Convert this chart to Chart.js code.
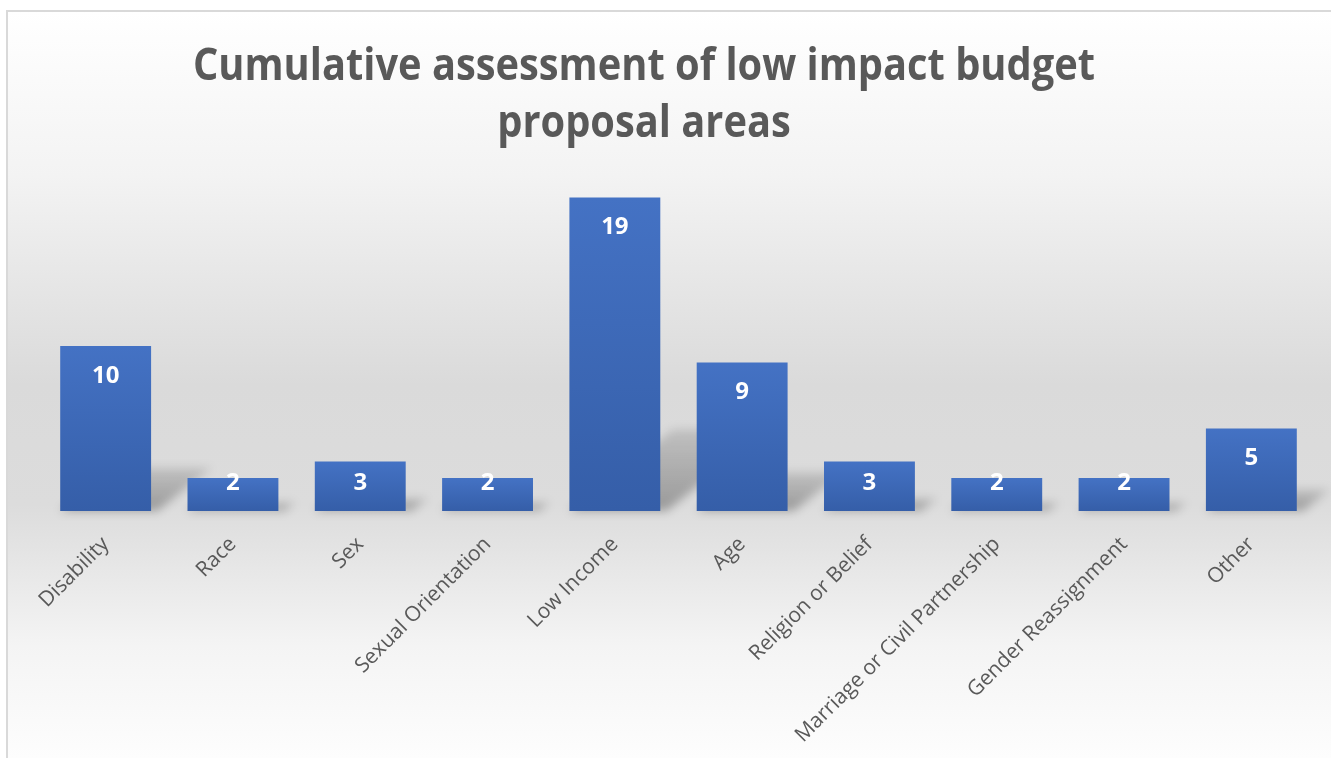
<!DOCTYPE html>
<html>
<head>
<meta charset="utf-8">
<script src="https://cdn.jsdelivr.net/npm/chart.js@4"></script>
<style>
  body { margin: 0; background: #fff; overflow: hidden; }
  #frame {
    position: absolute; left: 6px; top: 10px; width: 1340px; height: 746px;
    border: 2px solid #d9d9d9;
    background: linear-gradient(to bottom, #ffffff 0%, #f3f3f3 22%, #dadada 50%, #dcdcdc 66%, #f4f4f4 85%, #fdfdfd 100%);
  }
  #wrap { position: absolute; left: 0; top: 0; width: 1331px; height: 758px; }
</style>
</head>
<body>
<div id="frame"></div>
<div id="wrap"><canvas id="myChart" width="1331" height="758"></canvas></div>
<script>

const categories = ["Disability", "Race", "Sex", "Sexual Orientation", "Low Income", "Age",
  "Religion or Belief", "Marriage or Civil Partnership", "Gender Reassignment", "Other"];
const counts = [10, 2, 3, 2, 19, 9, 3, 2, 2, 5];
const titleLines = ["Cumulative assessment of low impact budget", "proposal areas"];

// bar colour, lighter at the top of each bar
function barGradient(context){
    const chart = context.chart;
    if(!chart.chartArea) return "#4472c4";
    const yScale = chart.scales.y;
    const top = yScale.getPixelForValue(context.raw);
    const base = yScale.getPixelForValue(0);
    const g = chart.ctx.createLinearGradient(0, top, 0, base);
    g.addColorStop(0, "#4472c4");
    g.addColorStop(1, "#355ea8");
    return g;
}

// title drawn narrow, like the original Calibri heading
const titlePlugin = {
    id: "narrowTitle",
    afterDraw(chart){
        const ctx = chart.ctx;
        ctx.save();
        ctx.font = "bold 45px 'Open Sans'";
        ctx.fillStyle = "#595959";
        ctx.textAlign = "center";
        ctx.textBaseline = "alphabetic";
        const w = ctx.measureText(titleLines[0]).width;
        const sx = 902 / w;
        ctx.translate(644, 0);
        ctx.scale(sx, 1);
        ctx.fillText(titleLines[0], 0, 80);
        ctx.fillText(titleLines[1], 0, 137);
        ctx.restore();
    }
};

// soft floor shadows behind the bars
const shadowPlugin = {
    id: "floorShadow",
    beforeDatasetsDraw(chart){
        const ctx = chart.ctx;
        const meta = chart.getDatasetMeta(0);
        ctx.save();
        ctx.filter = "blur(5px)";
        meta.data.forEach(function(bar){
            const h = bar.base - bar.y;
            const left = bar.x - bar.width / 2;
            const right = bar.x + bar.width / 2;
            const dx = h * 0.33, dy = h * 0.26;
            const g = ctx.createLinearGradient(0, bar.base, 0, bar.base - dy);
            g.addColorStop(0, "rgba(0,0,0,0.30)");
            g.addColorStop(1, "rgba(0,0,0,0.12)");
            ctx.fillStyle = g;
            ctx.beginPath();
            ctx.moveTo(left, bar.base);
            ctx.lineTo(right + 6, bar.base);
            ctx.lineTo(right + dx + 6, bar.base - dy);
            ctx.lineTo(left + dx, bar.base - dy);
            ctx.closePath();
            ctx.fill();
        });
        ctx.restore();
    }
};

// value labels inside the top of each bar
const valuePlugin = {
    id: "valueLabels",
    afterDatasetsDraw(chart){
        const ctx = chart.ctx;
        const meta = chart.getDatasetMeta(0);
        ctx.save();
        ctx.font = "bold 24px 'Open Sans'";
        ctx.fillStyle = "#ffffff";
        ctx.textAlign = "center";
        ctx.textBaseline = "middle";
        meta.data.forEach(function(bar, i){
            const y = Math.min(bar.y + 30, bar.base - 28);
            ctx.fillText(String(counts[i]), bar.x, y);
        });
        ctx.restore();
    }
};

new Chart("myChart", {
    type: "bar",
    data: {
        labels: categories,
        datasets: [{
            data: counts,
            backgroundColor: barGradient,
            borderWidth: 0,
            categoryPercentage: 1,
            barPercentage: 0.714
        }]
    },
    options: {
        responsive: false,
        animation: false,
        layout: { padding: { left: 42, right: 16, top: 181, bottom: 0 } },
        plugins: {
            legend: { display: false },
            title: { display: false },
            tooltip: { enabled: false }
        },
        scales: {
            x: {
                grid: { display: false, drawTicks: false },
                border: { display: false },
                ticks: {
                    color: "#595959",
                    font: { family: "'Open Sans'", size: 21 },
                    minRotation: 45,
                    maxRotation: 45,
                    autoSkip: false,
                    padding: 21
                },
                afterFit: function(scale){ scale.height = 247; }
            },
            y: {
                display: false,
                min: 0,
                max: 20
            }
        }
    },
    plugins: [shadowPlugin, valuePlugin, titlePlugin]
});
</script>
</body>
</html>
